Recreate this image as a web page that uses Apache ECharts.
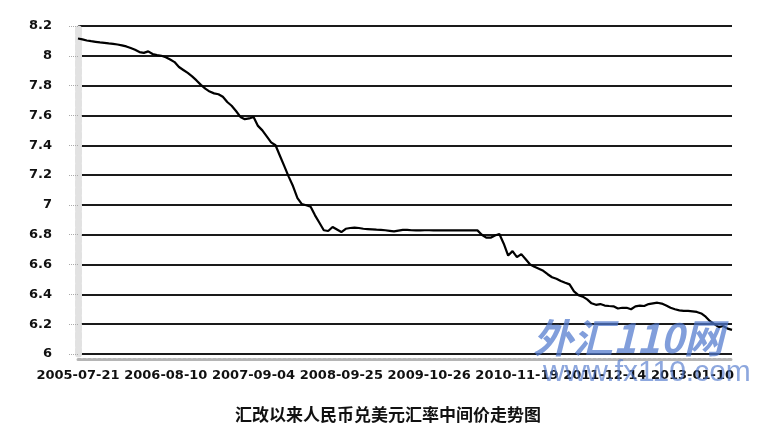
<!DOCTYPE html>
<html>
<head>
<meta charset="utf-8">
<script src="https://cdn.jsdelivr.net/npm/echarts@6/dist/echarts.min.js"></script>
<style>
html,body{margin:0;padding:0;background:#fff;}
#chart{width:779px;height:432px;}
</style>
</head>
<body>
<div id="chart"></div>
<script>
// Tick labels on the x axis (one every 20 samples)
const tickLabels = ['2005-07-21','2006-08-10','2007-09-04','2008-09-25','2009-10-26','2010-11-19','2011-12-14','2013-01-10'];
const samplesPerTick = 20;

// RMB / USD central parity, sampled evenly along the time axis
const rateA = [8.116,8.110,8.103,8.098,8.094,8.090,8.087,8.083,8.080,8.076,
               8.070,8.063,8.052,8.040,8.025,8.020,8.030,8.012,8.005,8.000];
const rateB = [7.990,7.975,7.958,7.925,7.905,7.885,7.862,7.835,7.805,7.780,
               7.760,7.748,7.742,7.725,7.690,7.665,7.630,7.590,7.575,7.580];
const rateC = [7.590,7.530,7.500,7.460,7.420,7.400,7.330,7.260,7.190,7.125,
               7.045,7.005,6.998,6.988,6.930,6.880,6.830,6.825,6.852,6.835];
const rateD = [6.818,6.840,6.845,6.848,6.845,6.840,6.838,6.836,6.834,6.833,
               6.830,6.826,6.822,6.828,6.832,6.832,6.830,6.829,6.829,6.830];
const rateE = [6.830,6.829,6.829,6.829,6.829,6.829,6.829,6.829,6.829,6.829,
               6.829,6.829,6.800,6.780,6.780,6.795,6.805,6.740,6.660,6.690];
const rateF = [6.650,6.670,6.635,6.600,6.585,6.572,6.558,6.535,6.515,6.505,
               6.490,6.478,6.467,6.420,6.395,6.385,6.366,6.340,6.330,6.335];
const rateG = [6.325,6.322,6.320,6.305,6.310,6.310,6.300,6.320,6.325,6.322,
               6.335,6.340,6.344,6.338,6.325,6.310,6.300,6.293,6.289,6.289];
const rateH = [6.286,6.282,6.272,6.250,6.220,6.200,6.180,6.188,6.170,6.162];

const yTicks = {min: 6, max: 8.2, step: 0.2};
const titleText = '汇改以来人民币兑美元汇率中间价走势图';
const watermark1 = '外汇110网';
const watermark2 = 'www.fx110.com';

const rates = [].concat(rateA, rateB, rateC, rateD, rateE, rateF, rateG, rateH);
const seriesData = rates.map((v, i) => [i, v]);

const chart = echarts.init(document.getElementById('chart'), null, {renderer: 'canvas'});
chart.setOption({
  backgroundColor: '#ffffff',
  animation: false,
  title: {
    text: titleText,
    left: 230,
    top: 401,
    textStyle: {fontFamily: 'Noto Sans CJK SC', fontSize: 17, fontWeight: 'bold', color: '#111'}
  },
  grid: {left: 78, right: 47, top: 26, bottom: 78, containLabel: false},
  xAxis: {
    type: 'value',
    min: 0,
    max: rates.length - 1,
    interval: samplesPerTick,
    offset: 5,
    axisLine: {show: true, lineStyle: {color: '#b5b5b5', width: 3, type: [3, 2]}},
    axisTick: {show: false},
    splitLine: {show: false},
    axisLabel: {
      margin: 10,
      fontFamily: 'DejaVu Sans',
      fontWeight: 'bold',
      fontSize: 13,
      color: '#111',
      showMaxLabel: false,
      formatter: function (v) {
        if (v % samplesPerTick !== 0) return '';
        return tickLabels[v / samplesPerTick] || '';
      }
    }
  },
  yAxis: {
    type: 'value',
    min: yTicks.min,
    max: yTicks.max,
    interval: yTicks.step,
    offset: 5,
    axisLine: {show: true, lineStyle: {color: '#e2e2e2', width: 7, type: [5, 3]}},
    axisTick: {show: true, length: 10, lineStyle: {color: '#aaa', type: 'dotted'}},
    splitLine: {show: true, lineStyle: {color: '#1a1a1a', width: 2}},
    axisLabel: {
      margin: 21,
      fontFamily: 'DejaVu Sans',
      fontWeight: 'bold',
      fontSize: 13,
      color: '#111',
      formatter: function (v) { return String(Math.round(v * 10) / 10); }
    }
  },
  series: [{
    type: 'line',
    data: seriesData,
    showSymbol: false,
    lineStyle: {color: '#000', width: 2.2},
    z: 3
  }],
  graphic: [
    {
      type: 'text', left: 533, top: 318, z: 10,
      style: {text: watermark1, font: 'italic bold 40px "Noto Sans CJK SC"', fill: 'rgba(80,120,205,0.72)'}
    },
    {
      type: 'text', left: 543, top: 358, z: 10,
      style: {text: watermark2, font: '30px "Liberation Sans"', fill: 'rgba(80,120,205,0.65)'}
    }
  ]
});
</script>
</body>
</html>
